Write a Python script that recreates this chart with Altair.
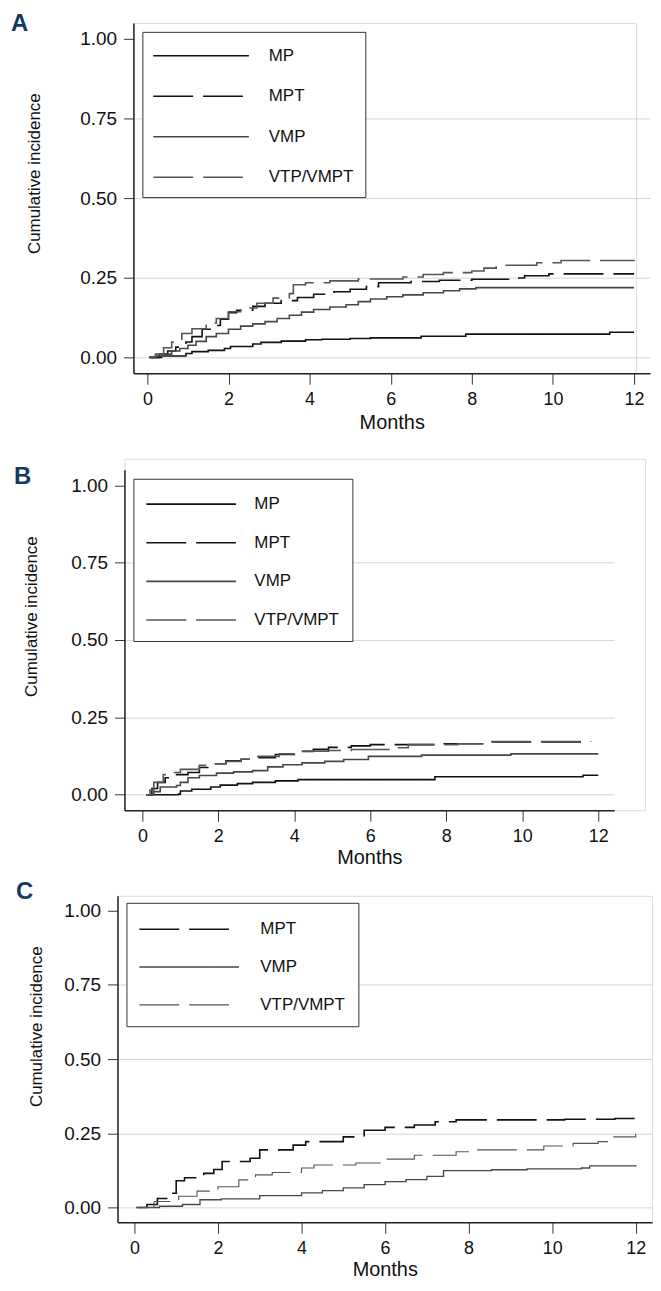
import altair as alt
import pandas as pd

FONT = "Liberation Sans, Arial, sans-serif"

# ---------------- data (months, cumulative incidence) ----------------
SERIES_4 = ["MP", "MPT", "VMP", "VTP/VMPT"]
SERIES_3 = ["MPT", "VMP", "VTP/VMPT"]
PANEL_LABELS = ["A", "B", "C"]
Y_TICKS = [0, 0.25, 0.5, 0.75, 1.0]
X_TICKS = [0, 2, 4, 6, 8, 10, 12]

# Panel A
A_MP_T = [0.05, 0.35, 0.95, 1.1, 1.5, 1.9, 2.05, 2.6, 2.8, 3.3, 3.9, 4.3, 5.0, 5.5, 6.75, 7.85, 11.4, 12.0]
A_MP_Y = [0.0, 0.004, 0.012, 0.018, 0.022, 0.028, 0.034, 0.042, 0.047, 0.051, 0.055, 0.057, 0.059, 0.061, 0.066, 0.073, 0.079, 0.079]
A_MPT_T = [0.05, 0.3, 0.5, 0.7, 0.95, 1.1, 1.35, 1.6, 1.8, 2.0, 2.2, 2.6, 2.9, 3.3, 3.7, 4.1, 4.6, 5.0, 5.4, 5.7, 6.5, 7.2, 8.0, 9.0, 9.3, 9.9, 12.0]
A_MPT_Y = [0.0, 0.01, 0.02, 0.032, 0.048, 0.065, 0.088, 0.1, 0.12, 0.14, 0.148, 0.16, 0.17, 0.178, 0.188, 0.198, 0.206, 0.214, 0.222, 0.234, 0.238, 0.242, 0.245, 0.249, 0.256, 0.262, 0.262]
A_VMP_T = [0.05, 0.2, 0.4, 0.6, 0.8, 1.0, 1.2, 1.45, 1.7, 2.0, 2.3, 2.6, 2.9, 3.2, 3.5, 3.8, 4.1, 4.5, 4.9, 5.2, 5.5, 5.9, 6.3, 6.8, 7.3, 7.7, 8.1, 12.0]
A_VMP_Y = [0.0, 0.004, 0.01, 0.02, 0.028, 0.038, 0.05, 0.065, 0.075, 0.088, 0.098, 0.105, 0.112, 0.122, 0.132, 0.142, 0.15, 0.158, 0.165, 0.175, 0.183, 0.19, 0.196, 0.203, 0.209, 0.215, 0.219, 0.219]
A_VTP_T = [0.05, 0.2, 0.4, 0.6, 0.85, 1.1, 1.45, 1.7, 2.0, 2.3, 2.7, 3.1, 3.5, 3.6, 3.9, 4.5, 5.2, 6.3, 6.8, 7.3, 8.0, 8.3, 8.6, 9.6, 10.2, 12.0]
A_VTP_Y = [0.0, 0.01, 0.03, 0.048, 0.075, 0.09, 0.108, 0.122, 0.143, 0.155, 0.17, 0.186, 0.2, 0.228, 0.234, 0.24, 0.246, 0.252, 0.26, 0.266, 0.271, 0.28, 0.289, 0.297, 0.304, 0.306]

# Panel B
B_MP_T = [0.1, 0.95, 1.0, 1.3, 1.8, 2.05, 2.5, 2.9, 3.5, 4.1, 7.7, 11.6, 12.0]
B_MP_Y = [0.0, 0.002, 0.012, 0.018, 0.025, 0.031, 0.036, 0.04, 0.045, 0.049, 0.058, 0.063, 0.063]
B_MPT_T = [0.1, 0.25, 0.4, 0.6, 0.9, 1.2, 1.5, 1.75, 2.2, 2.6, 3.0, 3.5, 4.0, 4.5, 4.9, 5.5, 6.0, 7.8, 9.2, 11.8]
B_MPT_Y = [0.0, 0.02, 0.04, 0.055, 0.065, 0.072, 0.088, 0.1, 0.11, 0.115, 0.12, 0.13, 0.14, 0.147, 0.153, 0.158, 0.162, 0.165, 0.171, 0.173]
B_VMP_T = [0.1, 0.3, 0.47, 0.9, 1.0, 1.2, 1.5, 1.95, 2.4, 2.9, 3.3, 3.7, 4.2, 4.8, 5.3, 5.95, 7.35, 9.7, 12.0]
B_VMP_Y = [0.0, 0.01, 0.025, 0.03, 0.04, 0.055, 0.062, 0.07, 0.074, 0.078, 0.09, 0.097, 0.103, 0.108, 0.114, 0.124, 0.128, 0.132, 0.132]
B_VTP_T = [0.1, 0.2, 0.3, 0.55, 0.75, 1.0, 1.5, 1.8, 2.2, 2.6, 3.0, 3.6, 4.1, 4.9, 5.5, 6.7, 7.0, 8.3, 9.2, 11.8]
B_VTP_Y = [0.0, 0.015, 0.04, 0.065, 0.072, 0.082, 0.095, 0.1, 0.108, 0.115, 0.124, 0.132, 0.141, 0.143, 0.146, 0.152, 0.162, 0.165, 0.172, 0.174]

# Panel C
C_MPT_T = [0.05, 0.3, 0.55, 0.9, 1.0, 1.2, 1.66, 1.9, 2.1, 2.77, 3.0, 3.8, 4.1, 5.0, 5.5, 6.0, 6.7, 7.2, 7.7, 10.3, 11.5, 12.0]
C_MPT_Y = [0.0, 0.01, 0.03, 0.048, 0.09, 0.1, 0.115, 0.128, 0.155, 0.166, 0.194, 0.21, 0.222, 0.238, 0.26, 0.27, 0.278, 0.289, 0.295, 0.297, 0.3, 0.3]
C_VMP_T = [0.05, 0.6, 1.15, 1.57, 2.08, 3.0, 4.0, 4.5, 5.0, 5.5, 6.0, 6.5, 7.0, 7.4, 8.55, 9.4, 10.7, 10.9, 12.0]
C_VMP_Y = [0.0, 0.004, 0.01, 0.026, 0.029, 0.04, 0.049, 0.057, 0.066, 0.077, 0.087, 0.094, 0.105, 0.124, 0.127, 0.13, 0.133, 0.14, 0.143]
C_VTP_T = [0.05, 0.47, 1.06, 1.5, 2.0, 2.5, 2.9, 3.3, 4.0, 4.3, 5.3, 6.0, 6.7, 7.7, 8.1, 9.8, 10.5, 11.1, 11.4, 12.0]
C_VTP_Y = [0.0, 0.02, 0.038, 0.055, 0.07, 0.093, 0.11, 0.118, 0.133, 0.143, 0.15, 0.163, 0.176, 0.188, 0.194, 0.207, 0.216, 0.222, 0.238, 0.248]

COLORS = {"MP": "#111111", "MPT": "#111111", "VMP": "#474747", "VTP/VMPT": "#555555"}
DASHES = {"MP": [1, 0], "MPT": [40, 10], "VMP": [1, 0], "VTP/VMPT": [40, 10]}
WIDTHS = {"MP": 1.6, "MPT": 1.6, "VMP": 1.1, "VTP/VMPT": 1.1}


def frame(pairs):
    rows = []
    for name, ts, ys in pairs:
        for t, v in zip(ts, ys):
            rows.append({"series": name, "t": t, "v": v})
    return pd.DataFrame(rows)


DF_A = frame([("MP", A_MP_T, A_MP_Y), ("MPT", A_MPT_T, A_MPT_Y),
              ("VMP", A_VMP_T, A_VMP_Y), ("VTP/VMPT", A_VTP_T, A_VTP_Y)])
DF_B = frame([("MP", B_MP_T, B_MP_Y), ("MPT", B_MPT_T, B_MPT_Y),
              ("VMP", B_VMP_T, B_VMP_Y), ("VTP/VMPT", B_VTP_T, B_VTP_Y)])
DF_C = frame([("MPT", C_MPT_T, C_MPT_Y), ("VMP", C_VMP_T, C_VMP_Y),
              ("VTP/VMPT", C_VTP_T, C_VTP_Y)])

TEXT = "#111111"


def panel(df, series, label, g):
    leg = alt.Legend(
        title=None, orient="none", direction="vertical",
        legendX=g["leg_x"], legendY=g["leg_y"],
        symbolType="M-4,0H4", symbolSize=g["sym_size"],
        symbolOffset=g["sym_off"], labelOffset=g["lab_off"],
        rowPadding=g["row_pad"], padding=g["leg_pad"],
        strokeColor="#333333", fillColor="white",
        labelFont=FONT, labelFontSize=17, labelColor=TEXT,
    )
    x = alt.X(
        "t:Q",
        scale=alt.Scale(domain=g["xdom"], range=[0, g["xr"]], nice=False, zero=False),
        axis=alt.Axis(
            values=X_TICKS, title="Months", titleY=g["xt_y"], titleBaseline="alphabetic",
            titleFont=FONT, titleFontSize=20, titleFontWeight="normal", titleColor=TEXT,
            labelFont=FONT, labelFontSize=18, labelColor=TEXT, labelPadding=6,
            labelFlush=False, tickSize=11, tickColor="#333333",
            domainColor="#222222", domainWidth=1.5, grid=False,
        ),
    )
    y = alt.Y(
        "v:Q",
        scale=alt.Scale(domain=[-0.05, 1.05], range=g["yr"], nice=False, zero=False),
        axis=alt.Axis(
            values=Y_TICKS, format=".2f", title="Cumulative incidence",
            titleX=g["yt_x"], titleY=g["yt_y"], titleBaseline="alphabetic",
            titleFont=FONT, titleFontSize=17, titleFontWeight="normal", titleColor=TEXT,
            labelFont=FONT, labelFontSize=19, labelColor=TEXT, labelPadding=7,
            labelFlush=False, tickSize=10, tickColor="#333333",
            domainColor="#222222", domainWidth=1.5,
            grid=True, gridColor="#d6d6d6", gridWidth=1,
            gridOpacity={"condition": {"test": "datum.value >= 1", "value": 0}, "value": 1},
        ),
    )
    lines = alt.Chart(df).mark_line(interpolate="step-after").encode(
        x=x, y=y,
        color=alt.Color("series:N", scale=alt.Scale(domain=series, range=[COLORS[s] for s in series]), legend=leg),
        strokeDash=alt.StrokeDash("series:N", scale=alt.Scale(domain=series, range=[DASHES[s] for s in series]), legend=leg),
        strokeWidth=alt.StrokeWidth("series:N", scale=alt.Scale(domain=series, range=[WIDTHS[s] for s in series]), legend=leg),
    )
    tag = alt.Chart(pd.DataFrame({"label": [label]})).mark_text(
        align="left", baseline="alphabetic", font=FONT, fontSize=24,
        fontWeight="bold", color="#143a62",
    ).encode(text="label:N", x=alt.value(g["lab_x"]), y=alt.value(g["lab_y"]))
    return alt.layer(lines, tag).properties(width=g["w"], height=g["h"])


GA = dict(w=505, h=352, xr=519, xdom=[-0.344, 12.393], yr=[352, 0], xt_y=55,
          yt_x=-94, yt_y=151, lab_x=-123, lab_y=8,
          leg_x=9, leg_y=9, sym_size=576, sym_off=35, lab_off=55, row_pad=19.7, leg_pad=11)
GB = dict(w=523, h=353, xr=492, xdom=[-0.472, 12.42], yr=[353, 11], xt_y=54,
          yt_x=-88, yt_y=158, lab_x=-111, lab_y=25,
          leg_x=9, leg_y=20, sym_size=506, sym_off=32.5, lab_off=51, row_pad=17.8, leg_pad=13)
GC = dict(w=537, h=328, xr=537, xdom=[-0.405, 12.39], yr=[328, 0], xt_y=53,
          yt_x=-76, yt_y=131, lab_x=-102, lab_y=3,
          leg_x=9, leg_y=7, sym_size=625, sym_off=36.5, lab_off=58, row_pad=16, leg_pad=13)

pa = panel(DF_A, SERIES_4, PANEL_LABELS[0], GA)
pb = panel(DF_B, SERIES_4, PANEL_LABELS[1], GB)
pc = panel(DF_C, SERIES_3, PANEL_LABELS[2], GC)

chart = alt.vconcat(
    pa, pb, pc, spacing=86, bounds="flush", center=True,
    padding={"left": 2, "top": 0, "right": 0, "bottom": 0},
).resolve_scale(
    x="independent", y="independent", color="independent",
    strokeDash="independent", strokeWidth="independent",
).resolve_legend(
    color="independent", strokeDash="independent", strokeWidth="independent",
).configure_view(stroke="transparent").configure(background="white")

chart.save("out.html", embed_options={"renderer": "svg", "actions": False})
